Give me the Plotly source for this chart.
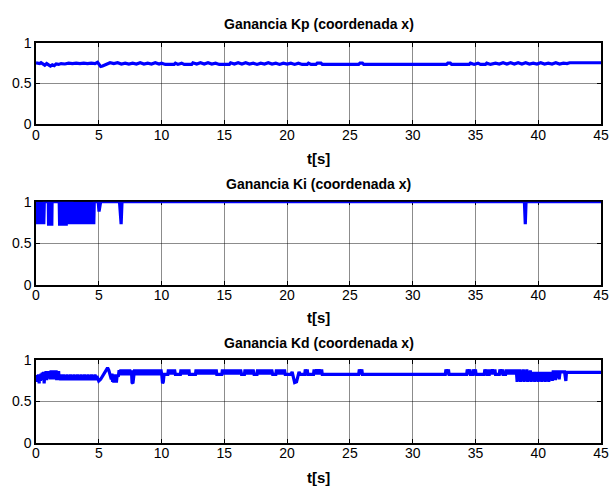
import plotly.graph_objects as go

# ---------------- data ----------------
titles = ["Ganancia Kp (coordenada x)", "Ganancia Ki (coordenada x)", "Ganancia Kd (coordenada x)"]
xlabel = "t[s]"
x_ticks = [0, 5, 10, 15, 20, 25, 30, 35, 40, 45]
y_ticks = [0, 0.5, 1]
y_ticktext = ["0", "0.5", "1"]

kp_points = [
    (0.00, 0.755), (0.15, 0.75), (0.30, 0.745), (0.40, 0.755), (0.55, 0.74), (0.70, 0.725),
    (0.85, 0.745), (1.00, 0.735), (1.15, 0.715), (1.30, 0.73), (1.45, 0.72), (1.60, 0.74),
    (1.80, 0.735), (2.00, 0.745), (2.30, 0.74), (2.60, 0.75), (2.90, 0.745), (3.20, 0.75),
    (3.50, 0.745), (3.80, 0.75), (4.10, 0.745), (4.40, 0.75), (4.70, 0.745), (4.90, 0.76),
    (5.00, 0.745), (5.15, 0.71), (5.30, 0.715), (5.50, 0.73), (5.70, 0.745), (5.90, 0.755),
    (6.20, 0.745), (6.50, 0.755), (6.80, 0.74), (7.10, 0.75), (7.40, 0.74), (7.70, 0.75),
    (8.00, 0.74), (8.30, 0.755), (8.60, 0.74), (8.90, 0.75), (9.20, 0.74), (9.50, 0.755),
    (9.80, 0.74), (10.00, 0.75), (10.30, 0.735), (11.00, 0.735), (11.10, 0.75), (11.30, 0.735),
    (11.60, 0.75), (11.80, 0.735), (12.40, 0.735), (12.50, 0.755), (12.80, 0.74), (13.10, 0.755),
    (13.40, 0.74), (13.70, 0.755), (14.00, 0.74), (14.30, 0.75), (14.60, 0.735), (15.40, 0.735),
    (15.50, 0.755), (15.80, 0.74), (16.10, 0.755), (16.40, 0.74), (16.70, 0.755), (17.00, 0.74),
    (17.30, 0.75), (17.60, 0.735), (17.90, 0.75), (18.20, 0.74), (18.50, 0.755), (18.80, 0.74),
    (19.10, 0.75), (19.40, 0.735), (19.70, 0.75), (20.00, 0.74), (20.30, 0.75), (20.60, 0.735),
    (20.90, 0.75), (21.20, 0.735), (21.60, 0.735), (21.70, 0.75), (21.90, 0.735), (22.30, 0.735),
    (22.40, 0.75), (22.70, 0.75), (22.80, 0.735), (25.70, 0.735), (25.80, 0.75), (26.00, 0.75),
    (26.10, 0.735), (32.70, 0.735), (32.80, 0.75), (33.00, 0.75), (33.10, 0.735), (34.50, 0.735),
    (34.60, 0.75), (34.90, 0.735), (35.20, 0.75), (35.40, 0.735), (35.80, 0.735), (35.90, 0.75),
    (36.20, 0.735), (36.60, 0.75), (36.90, 0.74), (37.20, 0.755), (37.50, 0.74), (37.80, 0.755),
    (38.10, 0.74), (38.40, 0.755), (38.70, 0.74), (39.00, 0.755), (39.30, 0.74), (39.60, 0.75),
    (39.90, 0.74), (40.20, 0.755), (40.50, 0.74), (40.80, 0.75), (41.10, 0.74), (41.40, 0.755),
    (41.70, 0.74), (42.00, 0.75), (42.30, 0.745), (42.50, 0.755), (45.00, 0.755),
]

ki_points = [
    (0.00, 1.0), (0.03, 0.73), (0.08, 1.0), (0.12, 0.73), (0.17, 1.0), (0.21, 0.73), (0.26, 1.0),
    (0.30, 0.73), (0.35, 1.0), (0.39, 0.73), (0.44, 1.0), (0.48, 0.73), (0.53, 1.0), (0.57, 0.73),
    (0.62, 0.73), (0.66, 1.0), (0.98, 1.0), (1.00, 0.73), (1.06, 0.73), (1.08, 1.0), (1.18, 1.0),
    (1.20, 0.73), (1.26, 0.73), (1.28, 1.0), (1.85, 1.0), (1.88, 0.73), (1.94, 0.73), (1.97, 1.0),
    (2.05, 1.0), (2.08, 0.73), (2.17, 0.73), (2.20, 1.0), (2.30, 1.0), (2.33, 0.73), (2.41, 0.73),
    (2.43, 1.0), (2.57, 1.0), (2.60, 0.73), (2.66, 1.0), (2.72, 0.73), (2.78, 1.0), (2.86, 1.0),
    (2.90, 0.73), (2.95, 1.0), (3.00, 0.73), (3.05, 1.0), (3.10, 0.73), (3.15, 1.0), (3.20, 0.73),
    (3.25, 1.0), (3.30, 0.73), (3.35, 1.0), (3.40, 0.73), (3.45, 1.0), (3.50, 0.73), (3.55, 1.0),
    (3.60, 0.73), (3.65, 1.0), (3.70, 0.73), (3.75, 1.0), (3.80, 0.73), (3.85, 1.0), (3.90, 0.73),
    (3.95, 1.0), (4.00, 0.73), (4.05, 1.0), (4.10, 0.73), (4.15, 1.0), (4.20, 0.73), (4.25, 1.0),
    (4.30, 0.73), (4.35, 1.0), (4.40, 0.73), (4.45, 1.0), (4.50, 0.73), (4.55, 1.0), (4.60, 0.73),
    (4.64, 1.0), (4.95, 1.0), (5.02, 0.88), (5.08, 0.93), (5.15, 1.0), (6.65, 1.0), (6.72, 0.73),
    (6.78, 0.73), (6.85, 1.0), (38.90, 1.0), (38.97, 0.73), (39.03, 1.0), (45.00, 1.0),
]

kd_points = [
    (0.00, 0.78), (0.05, 0.74), (0.10, 0.82), (0.15, 0.75), (0.20, 0.83), (0.25, 0.72), (0.30, 0.81),
    (0.35, 0.75), (0.40, 0.84), (0.45, 0.77), (0.50, 0.85), (0.55, 0.76), (0.60, 0.86), (0.65, 0.72),
    (0.70, 0.84), (0.75, 0.77), (0.80, 0.87), (0.85, 0.76), (0.90, 0.85), (0.95, 0.79), (1.00, 0.87),
    (1.05, 0.78), (1.10, 0.86), (1.15, 0.77), (1.20, 0.88), (1.25, 0.78), (1.30, 0.87), (1.35, 0.77),
    (1.40, 0.88), (1.45, 0.78), (1.50, 0.86), (1.55, 0.77), (1.60, 0.88), (1.65, 0.76), (1.70, 0.85),
    (1.75, 0.78), (1.80, 0.87), (1.85, 0.76), (1.90, 0.83), (1.97, 0.76), (2.04, 0.83), (2.11, 0.76),
    (2.18, 0.83), (2.25, 0.76), (2.32, 0.82), (2.39, 0.76), (2.46, 0.83), (2.53, 0.76), (2.60, 0.82),
    (2.67, 0.76), (2.74, 0.83), (2.81, 0.76), (2.88, 0.82), (2.95, 0.76), (3.02, 0.83), (3.09, 0.76),
    (3.16, 0.82), (3.23, 0.76), (3.30, 0.83), (3.37, 0.76), (3.44, 0.82), (3.51, 0.76), (3.58, 0.83),
    (3.65, 0.76), (3.72, 0.82), (3.79, 0.76), (3.86, 0.83), (3.93, 0.76), (4.00, 0.82), (4.07, 0.76),
    (4.14, 0.83), (4.21, 0.76), (4.28, 0.82), (4.35, 0.76), (4.42, 0.83), (4.49, 0.76), (4.56, 0.82),
    (4.63, 0.76), (4.70, 0.83), (4.77, 0.76), (4.84, 0.81), (4.92, 0.76), (5.00, 0.75), (5.15, 0.77),
    (5.30, 0.81), (5.45, 0.86), (5.60, 0.90), (5.70, 0.91), (5.80, 0.88), (5.90, 0.80), (6.00, 0.77),
    (6.05, 0.84), (6.10, 0.74), (6.15, 0.82), (6.20, 0.73), (6.25, 0.83), (6.30, 0.74), (6.35, 0.82),
    (6.40, 0.73), (6.47, 0.83), (6.55, 0.80), (6.62, 0.88), (6.69, 0.82), (6.76, 0.89), (6.83, 0.82),
    (6.90, 0.89), (6.97, 0.82), (7.04, 0.89), (7.11, 0.82), (7.18, 0.89), (7.25, 0.82), (7.32, 0.89),
    (7.39, 0.82), (7.46, 0.89), (7.53, 0.82), (7.60, 0.88), (7.65, 0.73), (7.72, 0.72), (7.78, 0.82),
    (7.85, 0.89), (7.92, 0.82), (7.99, 0.89), (8.06, 0.82), (8.13, 0.89), (8.20, 0.82), (8.27, 0.89),
    (8.34, 0.82), (8.41, 0.89), (8.48, 0.82), (8.55, 0.89), (8.62, 0.82), (8.69, 0.89), (8.76, 0.82),
    (8.83, 0.89), (8.90, 0.82), (8.97, 0.89), (9.04, 0.82), (9.11, 0.89), (9.18, 0.82), (9.25, 0.89),
    (9.32, 0.82), (9.39, 0.89), (9.46, 0.82), (9.53, 0.89), (9.60, 0.82), (9.67, 0.89), (9.74, 0.82),
    (9.81, 0.89), (9.88, 0.82), (9.95, 0.89), (10.02, 0.82), (10.08, 0.72), (10.14, 0.74), (10.20, 0.83),
    (10.50, 0.83), (10.55, 0.89), (10.63, 0.83), (10.71, 0.89), (10.79, 0.83), (10.87, 0.89), (10.95, 0.83),
    (11.03, 0.89), (11.10, 0.83), (11.50, 0.83), (11.55, 0.89), (11.63, 0.83), (11.71, 0.89), (11.79, 0.83),
    (11.87, 0.89), (11.95, 0.83), (12.03, 0.89), (12.11, 0.83), (12.18, 0.89), (12.22, 0.83), (12.70, 0.83),
    (12.75, 0.89), (12.83, 0.83), (12.91, 0.89), (12.99, 0.83), (13.07, 0.89), (13.15, 0.83), (13.23, 0.89),
    (13.31, 0.83), (13.39, 0.89), (13.47, 0.83), (13.55, 0.89), (13.63, 0.83), (13.71, 0.89), (13.79, 0.83),
    (13.87, 0.89), (13.95, 0.83), (14.03, 0.89), (14.11, 0.83), (14.19, 0.89), (14.27, 0.83), (14.35, 0.89),
    (14.40, 0.83), (14.80, 0.83), (14.85, 0.89), (14.93, 0.83), (15.01, 0.89), (15.09, 0.83), (15.17, 0.89),
    (15.25, 0.83), (15.33, 0.89), (15.41, 0.83), (15.49, 0.89), (15.57, 0.83), (15.65, 0.89), (15.73, 0.83),
    (15.81, 0.89), (15.89, 0.83), (15.97, 0.89), (16.05, 0.83), (16.13, 0.89), (16.21, 0.83), (16.29, 0.89),
    (16.37, 0.83), (16.60, 0.83), (16.65, 0.89), (16.73, 0.83), (16.81, 0.89), (16.89, 0.83), (16.97, 0.89),
    (17.05, 0.83), (17.13, 0.89), (17.21, 0.83), (17.29, 0.89), (17.37, 0.83), (17.60, 0.83), (17.65, 0.89),
    (17.73, 0.83), (17.81, 0.89), (17.89, 0.83), (17.97, 0.89), (18.05, 0.83), (18.13, 0.89), (18.21, 0.83),
    (18.29, 0.89), (18.37, 0.83), (18.45, 0.89), (18.53, 0.83), (18.61, 0.89), (18.69, 0.83), (18.77, 0.89),
    (18.85, 0.83), (19.10, 0.83), (19.15, 0.89), (19.23, 0.83), (19.31, 0.89), (19.39, 0.83), (19.47, 0.89),
    (19.55, 0.83), (19.63, 0.89), (19.71, 0.83), (19.79, 0.89), (19.85, 0.83), (20.30, 0.83), (20.40, 0.86),
    (20.50, 0.78), (20.60, 0.73), (20.75, 0.74), (20.85, 0.80), (20.95, 0.86), (21.05, 0.83), (21.40, 0.83),
    (21.45, 0.89), (21.55, 0.83), (21.60, 0.89), (21.65, 0.83), (22.10, 0.83), (22.15, 0.89), (22.25, 0.83),
    (22.35, 0.89), (22.45, 0.83), (22.55, 0.89), (22.65, 0.83), (22.75, 0.89), (22.80, 0.83), (25.70, 0.83),
    (25.75, 0.89), (25.85, 0.83), (25.95, 0.89), (26.00, 0.83), (32.60, 0.83), (32.65, 0.89), (32.75, 0.83),
    (32.85, 0.89), (32.90, 0.83), (34.30, 0.83), (34.35, 0.89), (34.45, 0.83), (34.55, 0.89), (34.60, 0.83),
    (34.80, 0.83), (34.85, 0.89), (34.95, 0.83), (35.00, 0.89), (35.05, 0.83), (35.70, 0.83), (35.75, 0.89),
    (35.85, 0.83), (35.90, 0.89), (35.95, 0.83), (36.10, 0.83), (36.15, 0.89), (36.25, 0.83), (36.35, 0.89),
    (36.45, 0.83), (36.55, 0.89), (36.60, 0.83), (36.90, 0.83), (36.95, 0.89), (37.05, 0.83), (37.15, 0.89),
    (37.20, 0.83), (37.40, 0.83), (37.45, 0.89), (37.53, 0.83), (37.61, 0.89), (37.69, 0.83), (37.77, 0.89),
    (37.85, 0.83), (37.93, 0.89), (38.01, 0.83), (38.09, 0.89), (38.17, 0.83), (38.25, 0.89), (38.32, 0.74),
    (38.39, 0.89), (38.46, 0.75), (38.53, 0.89), (38.60, 0.74), (38.67, 0.88), (38.74, 0.75), (38.81, 0.89),
    (38.88, 0.74), (38.95, 0.88), (39.02, 0.75), (39.09, 0.89), (39.16, 0.74), (39.23, 0.87), (39.30, 0.75),
    (39.37, 0.88), (39.44, 0.74), (39.51, 0.86), (39.58, 0.75), (39.65, 0.86), (39.72, 0.74), (39.79, 0.86),
    (39.86, 0.75), (39.93, 0.86), (40.00, 0.74), (40.07, 0.86), (40.14, 0.75), (40.21, 0.86), (40.28, 0.74),
    (40.35, 0.86), (40.42, 0.75), (40.49, 0.86), (40.56, 0.74), (40.63, 0.86), (40.70, 0.75), (40.77, 0.86),
    (40.84, 0.74), (40.91, 0.86), (40.98, 0.76), (41.05, 0.86), (41.12, 0.75), (41.19, 0.86), (41.30, 0.86),
    (41.37, 0.76), (41.44, 0.86), (41.60, 0.86), (41.67, 0.77), (41.74, 0.86), (42.10, 0.86), (42.15, 0.75),
    (42.20, 0.75), (42.25, 0.855), (45.00, 0.855),
]

series = [kp_points, ki_points, kd_points]

# ---------------- layout (pixel geometry) ----------------
W, H = 609, 502
panels_px = [(36, 120), (200, 286), (364, 449)]      # top, bottom of each plot area
title_y_px = [17, 182, 346]
xlabel_y_px = [155, 320, 485]

FONT = "Liberation Sans, Arial, Helvetica, sans-serif"

fig = go.Figure()
for i, pts in enumerate(series):
    t = [p[0] for p in pts]
    v = [p[1] for p in pts]
    fig.add_trace(go.Scatter(
        x=t, y=v, mode="lines",
        line=dict(color="#0000FF", width=3.2),
        xaxis="x" if i == 0 else f"x{i+1}",
        yaxis="y" if i == 0 else f"y{i+1}",
        showlegend=False, hoverinfo="skip",
    ))

axis_common = dict(
    showline=True, linecolor="black", linewidth=1.5, mirror="ticks",
    ticks="inside", ticklen=4, tickwidth=1, tickcolor="black",
    showgrid=True, gridcolor="rgba(0,0,0,0.45)", gridwidth=1,
    zeroline=False, tickfont=dict(family=FONT, size=14, color="black"),
    layer="below traces",
)

layout = dict(
    width=W, height=H,
    margin=dict(l=36, r=5, t=0, b=0),
    paper_bgcolor="white", plot_bgcolor="white",
    annotations=[],
)
for i, (top, bot) in enumerate(panels_px):
    sx = "" if i == 0 else str(i + 1)
    layout[f"xaxis{sx}"] = dict(
        axis_common, range=[0, 45], tickvals=x_ticks, ticktext=[str(x) for x in x_ticks],
        anchor=f"y{sx}", domain=[0, 1], ticklabeloverflow="allow", ticklabelstandoff=-3,
    )
    layout[f"yaxis{sx}"] = dict(
        axis_common, range=[0, 1], tickvals=y_ticks, ticktext=y_ticktext,
        anchor=f"x{sx}", domain=[(H - bot) / H, (H - top) / H],
    )
    layout["annotations"].append(dict(
        text=f"<b>{titles[i]}</b>", x=0.5, xref="paper", xanchor="center",
        y=(H - title_y_px[i]) / H, yref="paper", yanchor="middle", showarrow=False,
        font=dict(family=FONT, size=14, color="black"),
    ))
    layout["annotations"].append(dict(
        text=f"<b>{xlabel}</b>", x=0.5, xref="paper", xanchor="center",
        y=(H - xlabel_y_px[i]) / H, yref="paper", yanchor="middle", showarrow=False,
        font=dict(family=FONT, size=15, color="black"),
    ))

fig.update_layout(**layout)
fig.write_html("out.html")
